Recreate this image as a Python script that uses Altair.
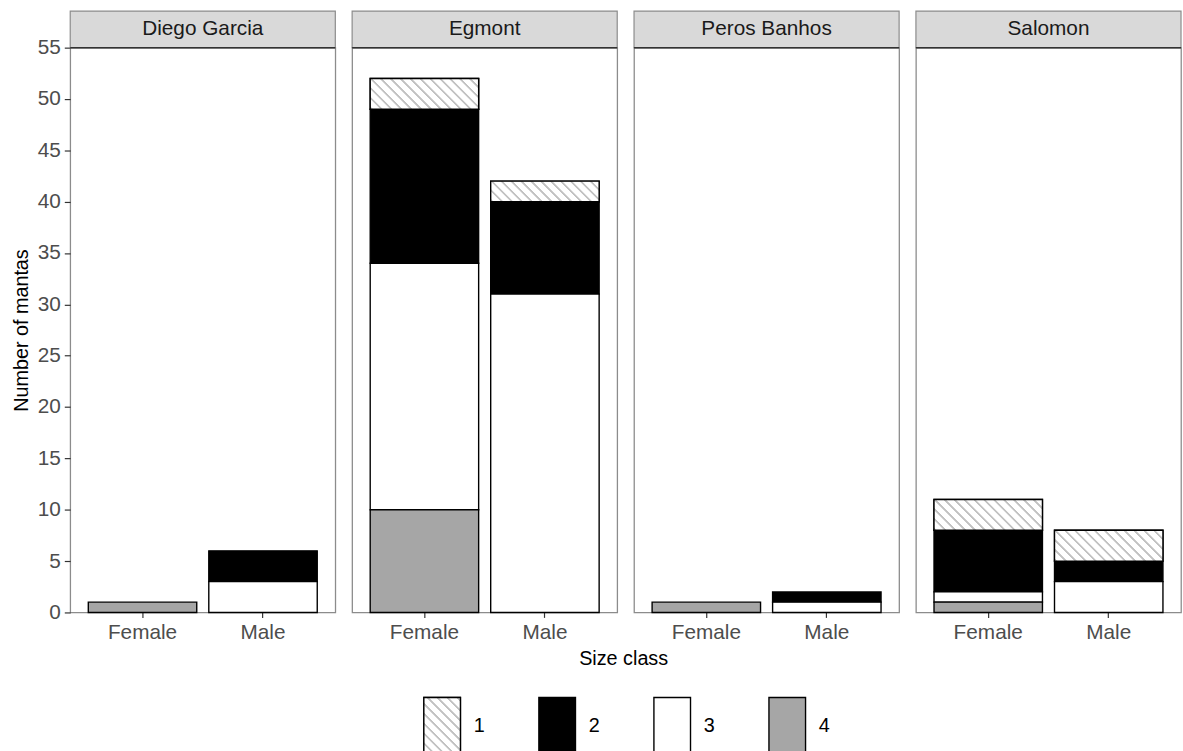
import altair as alt
import pandas as pd

# ---- data -------------------------------------------------------------
sites = ["Diego Garcia", "Egmont", "Peros Banhos", "Salomon"]
sexes = ["Female", "Male"]
size_classes = ["1", "2", "3", "4"]

# number of mantas in size classes 1, 2, 3, 4
diego_garcia = {"Female": [0, 0, 0, 1], "Male": [0, 3, 3, 0]}
egmont = {"Female": [3, 15, 24, 10], "Male": [2, 9, 31, 0]}
peros_banhos = {"Female": [0, 0, 0, 1], "Male": [0, 1, 1, 0]}
salomon = {"Female": [3, 6, 1, 1], "Male": [3, 2, 3, 0]}

counts_by_site = dict(zip(sites, [diego_garcia, egmont, peros_banhos, salomon]))

rows = []
for site, by_sex in counts_by_site.items():
    for sex in sexes:
        for cls, n in zip(size_classes, by_sex[sex]):
            rows.append({"site": site, "sex": sex, "cls": cls, "n": n})
df = pd.DataFrame(rows)
legend_df = pd.DataFrame({"cls": size_classes})

# ---- styling ----------------------------------------------------------
FONT = "Liberation Sans"
PANEL_W = 268
PANEL_H = 571
STRIP_H = 37
Y_MAX = 55
PXU = PANEL_H / Y_MAX                    # pixels per manta
BAR_W = PANEL_W / 2.2 * 0.9              # band width of one bar
BORDER = "#8c8c8c"
TICK_GREY = "#333333"
LABEL_GREY = "#4d4d4d"
HATCH_GREY = "#c2c2c2"

fill_scale = alt.Scale(domain=size_classes,
                       range=["#ffffff", "#000000", "#ffffff", "#a6a6a6"])

# diagonal hatching as a striped linear gradient; the gradient vector is
# scaled by the box size so the stripes stay at 45 degrees
HATCH_SPAN = 320.0
HATCH_PERIOD = 10.0
stops = []
k = 0
while k * HATCH_PERIOD < HATCH_SPAN:
    base = k * HATCH_PERIOD
    for off, col in [(0.0, "#ffffff"), (0.8, HATCH_GREY),
                     (2.6, HATCH_GREY), (3.4, "#ffffff")]:
        stops.append((min((base + off) / HATCH_SPAN, 1.0), col))
    k += 1
stops.append((1.0, "#ffffff"))
stops_expr = ", ".join("{offset: %.5f, color: '%s'}" % s for s in stops)
HATCH_EXPR = (
    "{gradient: 'linear', x1: 0, y1: 1, "
    f"x2: {HATCH_SPAN} * datum.hw / (datum.hw * datum.hw + datum.hh * datum.hh), "
    f"y2: 1 - {HATCH_SPAN} * datum.hh / (datum.hw * datum.hw + datum.hh * datum.hh), "
    f"stops: [{stops_expr}]}}"
)


def panel(site, first):
    base = alt.Chart(df).transform_filter(alt.datum.site == site)
    stacked = base.transform_filter(alt.datum.n > 0).transform_stack(
        stack="n", groupby=["site", "sex"], as_=["y0", "y1"],
        sort=[alt.SortField("cls", order="descending")],
    )
    x = alt.X(
        "sex:N",
        scale=alt.Scale(domain=sexes, paddingInner=0.1, paddingOuter=0.15),
        axis=alt.Axis(title=None, labelAngle=0, labelFontSize=21,
                      labelColor=LABEL_GREY, labelPadding=4, tickSize=5,
                      tickColor=TICK_GREY, tickWidth=1.2, domain=False),
    )
    y_axis = (
        alt.Axis(title="Number of mantas", values=list(range(0, 56, 5)),
                 labelFontSize=21, labelColor=LABEL_GREY, labelPadding=4,
                 tickSize=6, tickColor=TICK_GREY, tickWidth=1.2, domain=False,
                 grid=False, titleFontSize=20, titleFontWeight="normal",
                 titleColor="#000000", titlePadding=6)
        if first else None
    )
    y = alt.Y("y0:Q", scale=alt.Scale(domain=[0, Y_MAX], nice=False),
              axis=y_axis)

    bars = stacked.mark_bar(stroke="black", strokeWidth=1.4).encode(
        x=x, y=y, y2="y1:Q",
        fill=alt.Fill("cls:N", scale=fill_scale, legend=None),
    )
    hatch = (
        stacked.transform_filter(alt.datum.cls == "1")
        .transform_calculate(hw=str(BAR_W))
        .transform_calculate(hh=f"(datum.y1 - datum.y0) * {PXU}")
        .transform_calculate(hatch=HATCH_EXPR)
        .mark_bar(stroke="black", strokeWidth=1.4)
        .encode(x=x, y=y, y2="y1:Q", fill=alt.Fill("hatch:N", scale=None))
    )
    head = base.transform_aggregate(total="sum(n)", groupby=["site"])
    strip = head.mark_rect(fill="#d9d9d9", stroke=BORDER, strokeWidth=1.2).encode(
        x=alt.value(0), x2=alt.value(PANEL_W),
        y=alt.value(-STRIP_H), y2=alt.value(0),
    )
    strip_line = head.mark_rule(color="#333333", strokeWidth=1.5).encode(
        x=alt.value(0), x2=alt.value(PANEL_W), y=alt.value(0),
    )
    strip_text = head.mark_text(fontSize=21, color="#1a1a1a", font=FONT,
                                baseline="middle").encode(
        text="site:N", x=alt.value(PANEL_W / 2), y=alt.value(-STRIP_H / 2),
    )
    return alt.layer(bars, hatch, strip, strip_line, strip_text).properties(
        width=PANEL_W, height=PANEL_H
    )


panels = alt.hconcat(*[panel(s, i == 0) for i, s in enumerate(sites)],
                     spacing=13)

# ---- legend row with the x-axis title --------------------------------
ORIGIN_X = 68          # left edge of the first panel on the page
LEG_H = 58             # legend keys run down past the bottom edge
LEG_SYM_W = 37
LEG_STEP = 116.3
LEG_X0 = 376.0
LEG_W = 1100 - ORIGIN_X

lx = alt.X(
    "cls:N",
    scale=alt.Scale(type="point", domain=size_classes, padding=0,
                    range=[LEG_X0, LEG_X0 + 3 * LEG_STEP]),
    axis=alt.Axis(orient="top", title="Size class", labels=False, ticks=False,
                  domain=False, grid=False, titleFontSize=20,
                  titleFontWeight="normal", titleColor="#000000",
                  titleX=627 - ORIGIN_X, titlePadding=29),
)
leg_sym = alt.Chart(legend_df).mark_bar(
    width=LEG_SYM_W, stroke="black", strokeWidth=1.4
).encode(
    x=lx, y=alt.value(0), y2=alt.value(LEG_H),
    fill=alt.Fill("cls:N", scale=fill_scale, legend=None),
)
leg_hatch = (
    alt.Chart(legend_df)
    .transform_filter(alt.datum.cls == "1")
    .transform_calculate(hw=str(LEG_SYM_W))
    .transform_calculate(hh=str(LEG_H))
    .transform_calculate(hatch=HATCH_EXPR)
    .mark_bar(width=LEG_SYM_W, stroke="black", strokeWidth=1.4)
    .encode(x=lx, y=alt.value(0), y2=alt.value(LEG_H),
            fill=alt.Fill("hatch:N", scale=None))
)
leg_text = alt.Chart(legend_df).mark_text(
    dx=37.5, fontSize=20, color="#000000", baseline="middle"
).encode(x=lx, y=alt.value(28.5), text="cls:N")

legend_row = alt.layer(leg_sym, leg_hatch, leg_text).properties(
    width=LEG_W, height=LEG_H, view=alt.ViewBackground(stroke=None)
)

chart = (
    alt.vconcat(panels, legend_row, spacing=6)
    .properties(padding={"left": 10, "top": 5, "right": 0, "bottom": 0})
    .configure(font=FONT)
    .configure_view(stroke=BORDER, strokeWidth=1.3)
)

chart.save("out.html", embed_options={"renderer": "svg", "actions": False})
